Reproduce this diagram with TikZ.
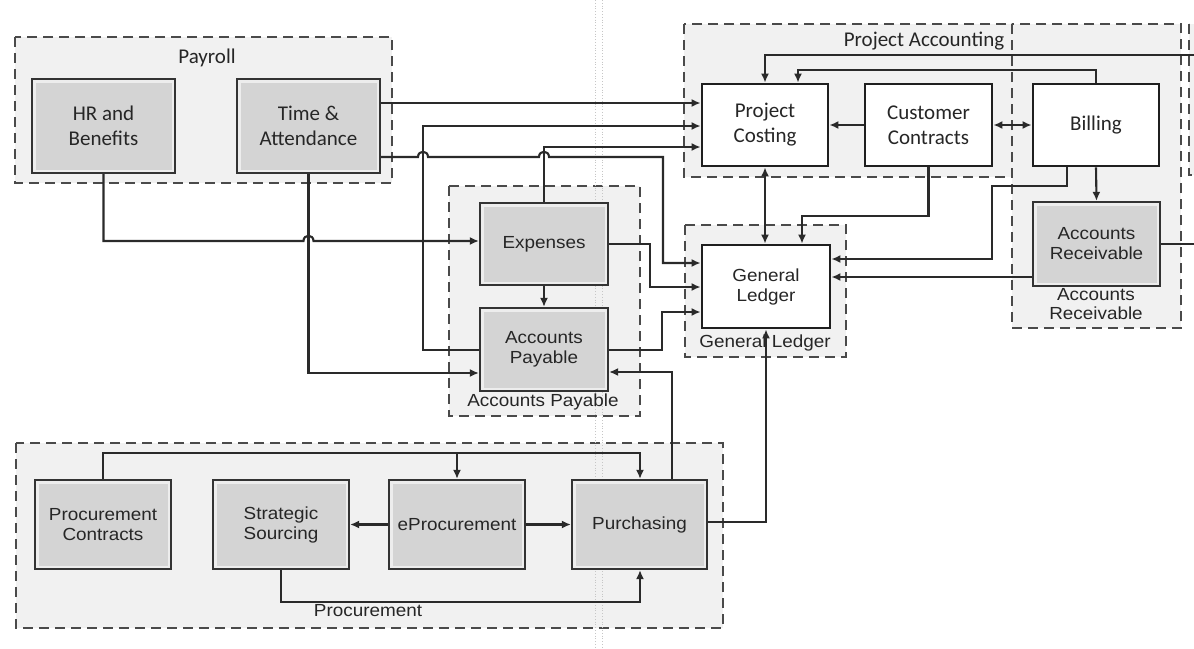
\documentclass[tikz,border=0pt]{standalone}
\usepackage{fontspec}
\setmainfont{Carlito}
\newfontfamily\arf[FakeStretch=1.08]{Liberation Sans}
\usetikzlibrary{arrows.meta}
\definecolor{bdr}{HTML}{333333}
\definecolor{rimc}{HTML}{EDEDED}
\definecolor{gfill}{HTML}{D4D4D4}
\definecolor{grpfill}{HTML}{F1F1F1}
\definecolor{dashc}{HTML}{4A4A4A}
\definecolor{linec}{HTML}{2A2A2A}
\definecolor{txtc}{HTML}{262626}
\tikzset{
  cal/.style={font=\fontsize{21}{25}\selectfont, text=txtc},
  ari/.style={font=\arf\fontsize{17.5}{20}\selectfont, text=txtc},
  graybox/.style={draw=bdr, line width=2.2pt, fill=rimc, align=center, inner sep=2pt,
    path picture={\fill[gfill] ([shift={(3.5pt,-3.5pt)}]path picture bounding box.north west) rectangle ([shift={(-3.5pt,3.5pt)}]path picture bounding box.south east);}},
  whitebox/.style={draw=black!88, line width=2.8pt, fill=white, align=center, inner sep=2pt},
  grp/.style={draw=dashc, dash pattern=on 10pt off 6pt, line width=2.2pt, fill=grpfill},
  conn/.style={draw=linec, line width=2.1pt},
  tip/.style={-{Latex[length=9pt,width=8pt]}},
  dtip/.style={{Latex[length=9pt,width=8pt]}-{Latex[length=9pt,width=8pt]}},
  grplabel/.style={align=center, inner sep=0pt},
}
\begin{document}
\begin{tikzpicture}[x=1pt,y=-1pt]
\useasboundingbox (0,0) rectangle (1194,648);
\fill[white] (0,0) rectangle (1194,648);

% groups
\path[grp] (15,37) rectangle (392,183);
\path[grp] (684,24) rectangle (1012,177);
\path[grp] (1012,24) rectangle (1181,328);
\begin{scope}
\clip (0,0) rectangle (1194,648);
\path[grp] (1189,24) rectangle (1230,175);
\end{scope}
\path[grp] (685,225) rectangle (846,357);
\path[grp] (449,186) rectangle (640,416);
\path[grp] (16,443) rectangle (723,628);

% page-break dotted lines
\draw[gray!45, dotted, line width=0.8pt] (595,0) -- (595,648);
\draw[gray!45, dotted, line width=0.8pt] (602,0) -- (602,648);

% group labels
\node[cal, grplabel] (lPay) at (207,58) {Payroll};
\node[cal, grplabel] (lPA) at (924,41) {Project Accounting};
\node[ari, grplabel, font=\arf\fontsize{17.5}{19}\selectfont] (lAR) at (1096,304) {Accounts\\Receivable};
\node[ari, grplabel] (lGL) at (765,343) {General Ledger};
\node[ari, grplabel] (lAP) at (543,402) {Accounts Payable};
\node[ari, grplabel] (lPro) at (368,611) {Procurement};

% boxes
\node[graybox, cal, minimum width=143pt, minimum height=94pt] (HR) at (103.5,126) {HR and\\Benefits};
\node[graybox, cal, minimum width=143pt, minimum height=94pt] (TA) at (308.5,126) {Time \&\\Attendance};
\node[whitebox, cal, minimum width=126pt, minimum height=82pt] (PC) at (765,125) {Project\\Costing};
\node[whitebox, cal, minimum width=127pt, minimum height=82pt] (CC) at (928.5,125) {Customer\\Contracts};
\node[whitebox, cal, minimum width=126pt, minimum height=82pt] (Bill) at (1096,125) {Billing};
\node[graybox, ari, minimum width=127pt, minimum height=84pt] (AR) at (1096.5,244) {Accounts\\Receivable};
\node[whitebox, ari, minimum width=128pt, minimum height=83pt] (GL) at (766,286.5) {General\\Ledger};
\node[graybox, ari, minimum width=128pt, minimum height=82pt] (Exp) at (544,244) {Expenses};
\node[graybox, ari, minimum width=128pt, minimum height=83pt] (AP) at (544,349.5) {Accounts\\Payable};
\node[graybox, ari, minimum width=136pt, minimum height=89pt] (PrC) at (103,524.5) {Procurement\\Contracts};
\node[graybox, ari, minimum width=136pt, minimum height=89pt] (SS) at (281,524.5) {Strategic\\Sourcing};
\node[graybox, ari, minimum width=136pt, minimum height=89pt] (eP) at (457,524.5) {eProcurement};
\node[graybox, ari, minimum width=135pt, minimum height=89pt] (Pur) at (639.5,524.5) {Purchasing};

\coordinate (edgeT) at (1194,55);
\coordinate (edgeR) at (1194,244);

% connectors: payroll / AP / GL
\draw[conn,tip] (TA.east |- 0,103) -- (PC.west |- 0,103);
\draw[conn,tip] (AP.west |- 0,350) -- (423,350) -- (423,126) -- (PC.west |- 0,126);
\draw[conn,tip] (Exp.north) -- (Exp.north |- 0,147) -- (PC.west |- 0,147);
\draw[conn,tip] (TA.east |- 0,157) -- (418,157) .. controls (418,150) and (428,150) .. (428,157)
  -- (539,157) .. controls (539,150) and (549,150) .. (549,157)
  -- (663,157) -- (663,263) -- (GL.west |- 0,263);
\draw[conn,tip] (Exp.east) -- (650,244) -- (650,287) -- (GL.west |- 0,287);
\draw[conn,tip] (AP.east |- 0,350) -- (662,350) -- (662,312) -- (GL.west |- 0,312);
\draw[conn,tip] (HR.south) -- (HR.south |- 0,241) -- (303.5,241) .. controls (303.5,234) and (313.5,234) .. (313.5,241) -- (Exp.west |- 0,241);
\draw[conn,tip] (TA.south) -- (TA.south |- 0,373) -- (AP.west |- 0,373);
\draw[conn,tip] (Exp.south) -- (AP.north);
\draw[conn,tip] (Pur.north -| 672,0) -- (672,372) -- (AP.east |- 0,372);
\draw[conn,tip] (Pur.east |- 0,522) -| (GL.south);

% project accounting
\draw[conn,tip] (CC.west) -- (PC.east);
\draw[conn,dtip] (CC.east) -- (Bill.west);
\draw[conn,dtip] (PC.south) -- (PC.south |- GL.north);
\draw[conn,tip] (CC.south) -- (CC.south |- 0,216) -- (802,216) -- (GL.north -| 802,0);
\draw[conn,tip] (Bill.south -| 1067,0) -- (1067,186) -- (992,186) -- (992,259) -- (GL.east |- 0,259);
\draw[conn,tip] (Bill.south) -- (AR.north);
\draw[conn,tip] (AR.west |- 0,277) -- (GL.east |- 0,277);
\draw[conn] (AR.east) -- (edgeR);
\draw[conn,tip] (Bill.north) -- (Bill.north |- 0,70) -- (798,70) -- (PC.north -| 798,0);
\draw[conn,tip] (edgeT) -- (765,55) -- (PC.north);

% procurement
\coordinate (brP) at (457,453);
\draw[conn,tip] (PrC.north) -- (PrC.north |- 0,453) -- (640,453) -- (Pur.north -| 640,0);
\draw[conn,tip] (brP) -- (eP.north);
\draw[conn,tip] (eP.west) -- (SS.east);
\draw[conn,tip] (eP.east) -- (Pur.west);
\draw[conn,tip] (SS.south) -- (SS.south |- 0,602) -- (640,602) -- (Pur.south -| 640,0);
\end{tikzpicture}
\end{document}
